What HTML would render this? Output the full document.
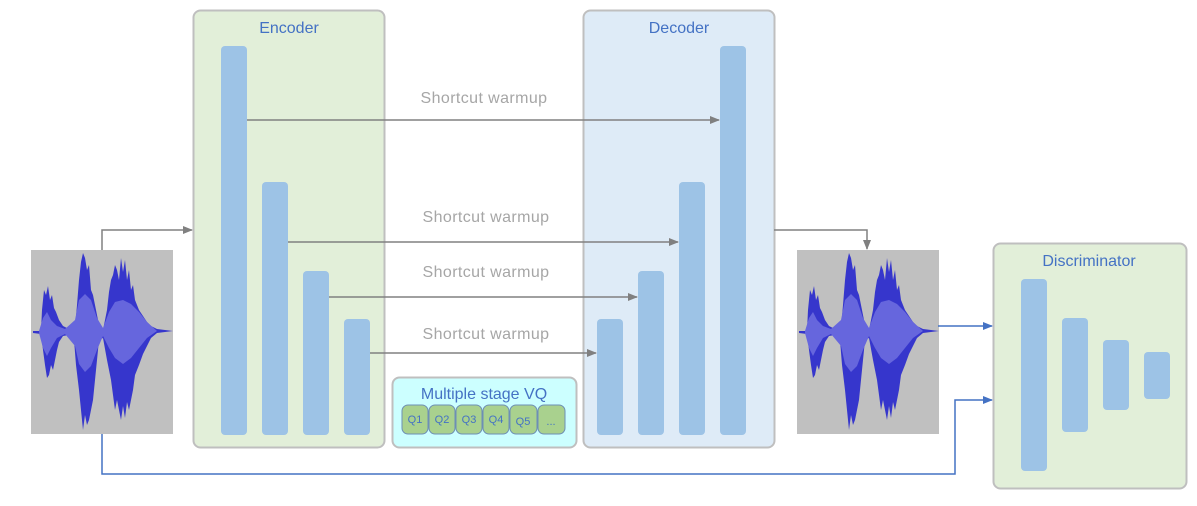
<!DOCTYPE html>
<html><head><meta charset="utf-8"><style>
body{margin:0;background:#fff;}
text{font-family:"Liberation Sans",sans-serif;}
</style></head><body>
<svg width="1197" height="501" viewBox="0 0 1197 501" xmlns="http://www.w3.org/2000/svg">
<defs>
<marker id="ag" markerWidth="10" markerHeight="8" refX="9" refY="4" orient="auto" markerUnits="userSpaceOnUse"><path d="M0,0 L10,4 L0,8z" fill="#808080"/></marker>
<marker id="ab" markerWidth="10" markerHeight="8" refX="9" refY="4" orient="auto" markerUnits="userSpaceOnUse"><path d="M0,0 L10,4 L0,8z" fill="#4472c4"/></marker>
<g id="wave">
<rect x="0" y="0" width="142" height="184" fill="#c0c0c0"/>
<path fill="#3636cc" d="M2,81 L10,81 L11,60 L13,40 L15,45 L17,36 L19,50 L21,45 L23,58 L25,62 L28,70 L32,76 L38,79 L44,78 L46,55 L48,30 L50,12 L52,3 L54,8 L56,20 L58,15 L60,40 L62,45 L64,55 L66,65 L68,75 L72,80 L76,60 L78,42 L80,30 L82,25 L84,15 L86,20 L88,30 L90,8 L92,22 L94,10 L96,30 L98,20 L100,40 L102,35 L104,50 L108,60 L112,66 L116,72 L120,76 L126,79 L142,81 L126,83 L120,88 L116,96 L112,104 L108,115 L104,125 L102,140 L100,150 L98,160 L96,152 L94,168 L92,156 L90,170 L88,160 L86,150 L84,160 L82,145 L80,130 L76,110 L72,88 L68,90 L66,110 L64,130 L62,150 L60,160 L58,170 L56,175 L54,165 L52,180 L50,160 L48,140 L45,115 L43,90 L38,85 L32,86 L28,92 L26,100 L24,110 L22,120 L20,115 L18,125 L16,128 L14,115 L12,100 L10,84 L2,83z"/>
<path fill="#6666dd" d="M8,81 L12,68 L16,62 L20,70 L26,76 L34,79 L44,70 L48,50 L54,44 L60,50 L66,68 L72,78 L78,62 L84,52 L92,50 L100,54 L108,62 L116,72 L126,81 L116,88 L108,98 L100,108 L92,114 L84,108 L78,98 L72,86 L66,100 L60,116 L54,122 L48,114 L44,96 L34,84 L26,88 L20,98 L16,106 L12,98 L8,83z"/>
</g>
</defs>

<!-- Encoder -->
<rect x="193.5" y="10.5" width="191" height="437" rx="7" fill="#e2efd9" stroke="#bfbfbf" stroke-width="2"/>
<text x="289" y="33" font-size="16" fill="#4472c4" text-anchor="middle">Encoder</text>
<g fill="#9dc3e6">
<rect x="221" y="46" width="26" height="389" rx="4"/>
<rect x="262" y="182" width="26" height="253" rx="4"/>
<rect x="303" y="271" width="26" height="164" rx="4"/>
<rect x="344" y="319" width="26" height="116" rx="4"/>
</g>
<!-- Decoder -->
<rect x="583.5" y="10.5" width="191" height="437" rx="7" fill="#deebf7" stroke="#bfbfbf" stroke-width="2"/>
<text x="679" y="33" font-size="16" fill="#4472c4" text-anchor="middle">Decoder</text>
<g fill="#9dc3e6">
<rect x="597" y="319" width="26" height="116" rx="4"/>
<rect x="638" y="271" width="26" height="164" rx="4"/>
<rect x="679" y="182" width="26" height="253" rx="4"/>
<rect x="720" y="46" width="26" height="389" rx="4"/>
</g>
<!-- VQ -->
<rect x="392.5" y="377.5" width="184" height="70" rx="7" fill="#ccffff" stroke="#bfbfbf" stroke-width="2"/>
<text x="484" y="399" font-size="16" fill="#4472c4" text-anchor="middle">Multiple stage VQ</text>
<g fill="#a9d18e" stroke="#6d8fb5" stroke-width="1">
<rect x="402" y="405" width="26" height="29" rx="6"/>
<rect x="429" y="405" width="26" height="29" rx="6"/>
<rect x="456" y="405" width="26" height="29" rx="6"/>
<rect x="483" y="405" width="26" height="29" rx="6"/>
<rect x="510" y="405" width="27" height="29" rx="6"/>
<rect x="538" y="405" width="27" height="29" rx="6"/>
</g>
<g font-size="11" fill="#4472c4" text-anchor="middle">
<text x="415" y="423">Q1</text><text x="442" y="423">Q2</text><text x="469" y="423">Q3</text><text x="496" y="423">Q4</text><text x="523" y="425">Q5</text><text x="551" y="425">...</text>
</g>
<!-- Shortcuts -->
<g stroke="#808080" stroke-width="1.5" fill="none" marker-end="url(#ag)">
<line x1="247" y1="120" x2="719" y2="120"/>
<line x1="288" y1="242" x2="678" y2="242"/>
<line x1="329" y1="297" x2="637" y2="297"/>
<line x1="370" y1="353" x2="596" y2="353"/>
<path d="M102,250 V230 H192"/>
<path d="M774,230 H867 V249"/>
</g>
<g font-size="16" fill="#a6a6a6" text-anchor="middle" letter-spacing="0.4">
<text x="484" y="103">Shortcut warmup</text>
<text x="486" y="222">Shortcut warmup</text>
<text x="486" y="277">Shortcut warmup</text>
<text x="486" y="339">Shortcut warmup</text>
</g>
<!-- waves -->
<use href="#wave" x="31" y="250"/>
<use href="#wave" x="797" y="250"/>
<!-- Discriminator -->
<rect x="993.5" y="243.5" width="193" height="245" rx="7" fill="#e2efd9" stroke="#bfbfbf" stroke-width="2"/>
<text x="1089" y="266" font-size="16" fill="#4472c4" text-anchor="middle">Discriminator</text>
<g fill="#9dc3e6">
<rect x="1021" y="279" width="26" height="192" rx="4"/>
<rect x="1062" y="318" width="26" height="114" rx="4"/>
<rect x="1103" y="340" width="26" height="70" rx="4"/>
<rect x="1144" y="352" width="26" height="47" rx="4"/>
</g>
<g stroke="#4472c4" stroke-width="1.5" fill="none" marker-end="url(#ab)">
<line x1="938" y1="326" x2="992" y2="326"/>
<path d="M102,434 V474 H955 V400 H992"/>
</g>
</svg>
</body></html>
